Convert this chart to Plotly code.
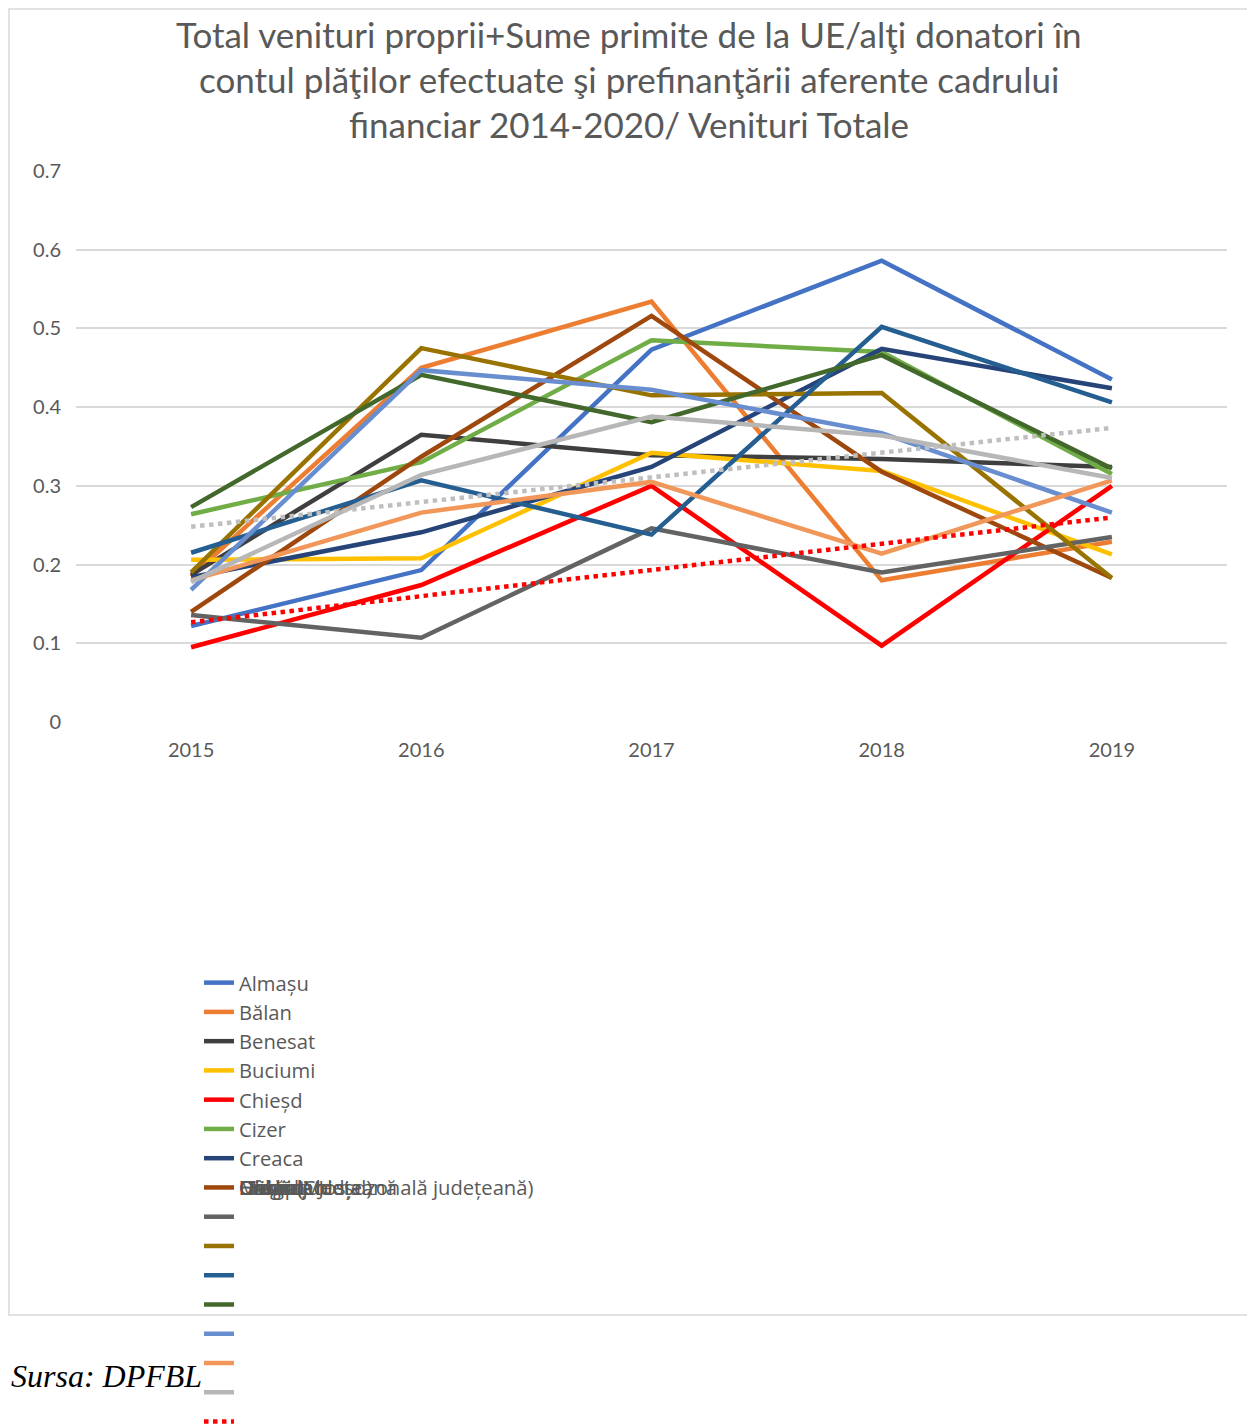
import numpy as np
import plotly.graph_objects as go

years = [2015, 2016, 2017, 2018, 2019]

almasu = [0.122, 0.193, 0.473, 0.586, 0.435]
balan = [0.185, 0.450, 0.534, 0.180, 0.229]
benesat = [0.187, 0.365, 0.339, 0.334, 0.324]
buciumi = [0.206, 0.208, 0.342, 0.319, 0.213]
chiesd = [0.095, 0.174, 0.300, 0.097, 0.300]
cizer = [0.264, 0.330, 0.485, 0.470, 0.315]
creaca = [0.184, 0.241, 0.324, 0.474, 0.424]
cristolt = [0.140, 0.337, 0.516, 0.318, 0.183]
cuzaplac = [0.136, 0.107, 0.246, 0.190, 0.235]
dobrin = [0.190, 0.475, 0.415, 0.418, 0.183]
dragu = [0.215, 0.307, 0.238, 0.502, 0.406]
fildu = [0.273, 0.441, 0.381, 0.466, 0.322]
galgau = [0.168, 0.447, 0.422, 0.367, 0.266]
hida = [0.180, 0.266, 0.305, 0.214, 0.307]
media = [0.178, 0.314, 0.388, 0.364, 0.310]

names = ['Almașu', 'Bălan', 'Benesat', 'Buciumi', 'Chieșd', 'Cizer', 'Creaca',
         'Cristolț', 'Cuzăplac', 'Dobrin', 'Dragu', 'Fildu de Jos', 'Gâlgău',
         'Hida', 'Media județeană']
series = [almasu, balan, benesat, buciumi, chiesd, cizer, creaca, cristolt,
          cuzaplac, dobrin, dragu, fildu, galgau, hida, media]
colors = ['#4472C4', '#ED7D31', '#3F3F3F', '#FFC000', '#FF0000', '#70AD47',
          '#264478', '#9E480E', '#636363', '#997300', '#255E91', '#43682B',
          '#698ED0', '#F1975A', '#B7B7B7']
trend_names = ['Liniar (Chieșd)', 'Liniar (Media zonală județeană)']

# only the first 7 legend labels are readable, the rest are piled on one row
n_labeled = 7

# page has an 8px body margin, so work in page pixels and shift
OFF = 8
W, H = 1255 - OFF, 1430
L, R, T, B = 76, 1227, 171, 722


def px_x(p):
    return (p - L) / (R - L)


def px_y(p):
    return (B - p) / (B - T)


grey_txt = '#595959'
font = 'Lato'
leg_font = dict(family='Open Sans', size=20.2, color=grey_txt)

fig = go.Figure()

for i in range(len(series)):
    fig.add_trace(go.Scatter(
        x=years, y=series[i], mode='lines',
        name=names[i] if i < n_labeled else '',
        line=dict(color=colors[i], width=4.5)))

# linear trendlines (Excel style) for Chieșd and the county average
trend_x = np.array([2015, 2019])
c_fit = np.polyfit(years, chiesd, 1)
m_fit = np.polyfit(years, media, 1)
fig.add_trace(go.Scatter(
    x=trend_x, y=np.polyval(c_fit, trend_x), mode='lines', name='',
    line=dict(color='#FF0000', width=4.5, dash='4.5px,4.5px')))
fig.add_trace(go.Scatter(
    x=trend_x, y=np.polyval(m_fit, trend_x), mode='lines', name='',
    line=dict(color='#BFBFBF', width=4.5, dash='4.5px,4.5px')))

# the overlapped legend labels
for txt in names[n_labeled:] + trend_names:
    fig.add_annotation(x=px_x(237), y=px_y(1187), xref='paper', yref='paper',
                       text=txt, showarrow=False, xanchor='left', yanchor='middle',
                       font=leg_font)

title_lines = ['Total venituri proprii+Sume primite de la UE/alţi donatori în',
               'contul plăţilor efectuate şi prefinanţării aferente cadrului',
               'financiar 2014-2020/ Venituri Totale']
for k, line in enumerate(title_lines):
    fig.add_annotation(x=px_x(629), y=px_y(34 + 45 * k), xref='paper', yref='paper',
                       text=line, showarrow=False, xanchor='center', yanchor='middle',
                       font=dict(family=font, size=35, color=grey_txt))

fig.add_annotation(x=px_x(OFF + 1), y=px_y(1376), xref='paper', yref='paper',
                   text='<i>Sursa: DPFBL</i>', showarrow=False,
                   xanchor='left', yanchor='middle',
                   font=dict(family='Liberation Serif', size=32, color='black'))

# chart frame (left/top edges pulled inside the page margin)
fig.add_shape(type='rect', xref='paper', yref='paper',
              x0=px_x(OFF + 1), x1=px_x(1253), y0=px_y(1315), y1=px_y(OFF + 1),
              line=dict(color='#D9D9D9', width=1.5), layer='below')

fig.update_layout(
    width=W, height=H,
    margin=dict(l=L - OFF, r=W - (R - OFF), t=T - OFF, b=H - (B - OFF), autoexpand=False),
    paper_bgcolor='white', plot_bgcolor='white',
    font=dict(family=font, size=20, color=grey_txt),
    showlegend=True,
    legend=dict(x=px_x(199), y=px_y(963), xanchor='left', yanchor='top',
                font=leg_font, bgcolor='rgba(0,0,0,0)', traceorder='normal'),
    xaxis=dict(range=[2014.5, 2019.5], tickvals=years, ticktext=[str(y) for y in years],
               showgrid=False, zeroline=False, showline=False, ticks='',
               ticklabelstandoff=14, tickfont=dict(size=20, color=grey_txt)),
    yaxis=dict(range=[0, 0.7], dtick=0.1, tickformat='.1~f',
               gridcolor='#D9D9D9', gridwidth=1.5, zeroline=False,
               showline=False, ticks='', ticklabelstandoff=14,
               tickfont=dict(size=20, color=grey_txt)),
)

fig.write_html('out.html')
